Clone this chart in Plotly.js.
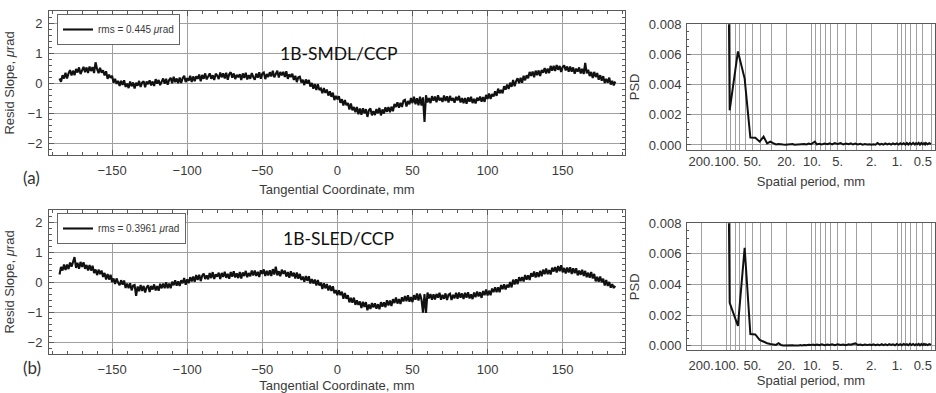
<!DOCTYPE html>
<html>
<head>
<meta charset="utf-8">
<script src="https://cdn.plot.ly/plotly-3.0.1.min.js"></script>
<style>html,body{margin:0;padding:0;background:#fff;}#chart{width:936px;height:393px;}</style>
</head>
<body>
<div id="chart"></div>
<script>
// Residual slope traces, x from -185 mm to 185 mm every 1 mm
const slopeStart = -185;
const slopeStep = 1;
const slopeA = [
  0.18,0.07,0.29,0.18,0.37,0.18,0.35,0.46,0.28,0.44,
  0.29,0.50,0.38,0.55,0.33,0.49,0.57,0.39,0.55,0.36,
  0.58,0.43,0.56,0.36,0.72,0.50,0.36,0.54,0.37,0.45,
  0.28,0.42,0.17,0.31,0.20,0.27,0.04,0.17,0.00,0.10,
  -0.07,0.10,-0.03,0.12,-0.10,0.01,-0.14,0.08,-0.08,0.05,
  -0.15,0.04,-0.06,0.10,-0.10,0.04,0.09,-0.11,0.08,-0.01,
  0.12,-0.05,0.08,-0.07,0.16,0.01,0.13,-0.04,0.10,0.18,
  0.01,0.17,-0.03,0.13,0.20,0.02,0.24,0.06,0.18,0.02,
  0.21,0.03,0.19,0.27,0.06,0.19,0.11,0.27,0.06,0.25,
  0.09,0.25,0.17,0.31,0.09,0.30,0.17,0.35,0.15,0.27,
  0.35,0.17,0.29,0.13,0.34,0.28,0.16,0.38,0.22,0.35,
  0.18,0.37,0.14,0.32,0.39,0.21,0.35,0.16,0.30,0.22,
  0.32,0.13,0.35,0.20,0.37,0.15,0.29,0.17,0.36,0.23,
  0.14,0.34,0.21,0.39,0.17,0.34,0.38,0.16,0.33,0.23,
  0.39,0.25,0.44,0.22,0.36,0.44,0.21,0.40,0.29,0.40,
  0.23,0.42,0.17,0.32,0.23,0.34,0.13,0.27,0.06,0.22,
  0.24,0.05,0.14,-0.04,0.15,0.01,0.13,-0.09,0.03,-0.16,
  -0.01,-0.20,-0.01,-0.20,-0.15,-0.31,-0.14,-0.30,-0.19,-0.39,
  -0.25,-0.43,-0.29,-0.54,-0.40,-0.51,-0.41,-0.63,-0.51,-0.72,
  -0.54,-0.71,-0.64,-0.85,-0.65,-0.88,-0.77,-0.94,-0.77,-1.01,
  -0.82,-1.03,-0.81,-0.98,-0.84,-1.10,-0.88,-0.82,-1.05,-0.91,
  -1.04,-0.84,-0.98,-0.80,-1.05,-0.85,-0.99,-0.78,-0.93,-0.77,
  -0.94,-0.76,-0.91,-0.67,-0.77,-0.61,-0.79,-0.63,-0.77,-0.56,
  -0.53,-0.75,-0.57,-0.68,-0.47,-0.64,-0.43,-0.68,-0.48,-0.71,
  -0.43,-0.72,-0.45,-1.27,-0.38,-0.62,-0.47,-0.64,-0.41,-0.56,
  -0.42,-0.61,-0.38,-0.55,-0.47,-0.60,-0.39,-0.57,-0.41,-0.62,
  -0.40,-0.56,-0.47,-0.63,-0.43,-0.55,-0.40,-0.62,-0.47,-0.64,
  -0.47,-0.66,-0.45,-0.59,-0.43,-0.64,-0.50,-0.65,-0.46,-0.56,
  -0.42,-0.59,-0.44,-0.60,-0.37,-0.50,-0.32,-0.50,-0.34,-0.42,
  -0.25,-0.40,-0.16,-0.31,-0.20,-0.31,-0.08,-0.19,-0.02,-0.17,
  0.04,-0.10,0.13,-0.08,0.09,0.19,0.02,0.20,0.04,0.27,
  0.12,0.29,0.19,0.40,0.27,0.41,0.22,0.44,0.29,0.45,
  0.26,0.46,0.37,0.53,0.35,0.51,0.36,0.60,0.44,0.60,
  0.43,0.63,0.47,0.60,0.40,0.56,0.62,0.45,0.58,0.41,
  0.58,0.41,0.55,0.34,0.51,0.41,0.55,0.35,0.50,0.33,
  0.70,0.35,0.47,0.26,0.40,0.20,0.40,0.23,0.36,0.14,
  0.29,0.11,0.26,0.03,0.17,0.04,0.21,-0.02,0.10,-0.05,
  0.08
];
const slopeB = [
  0.28,0.53,0.41,0.61,0.43,0.61,0.46,0.68,0.54,0.67,
  0.86,0.50,0.67,0.47,0.70,0.53,0.69,0.47,0.60,0.41,
  0.60,0.41,0.57,0.33,0.45,0.26,0.44,0.29,0.41,0.20,
  0.33,0.11,0.30,0.11,0.27,0.03,0.15,-0.04,0.15,0.01,
  -0.08,0.09,-0.06,0.08,-0.17,-0.02,-0.18,-0.01,-0.25,-0.09,
  -0.07,-0.43,-0.12,-0.28,-0.07,-0.27,-0.10,-0.32,-0.15,-0.08,
  -0.30,-0.10,-0.22,-0.05,-0.25,-0.11,-0.26,-0.03,-0.18,-0.02,
  -0.18,0.02,-0.18,-0.02,-0.18,0.04,-0.08,0.09,-0.09,0.05,
  -0.10,0.09,-0.01,0.16,-0.06,0.12,-0.01,0.19,0.05,0.21,
  0.04,0.26,0.10,0.27,0.06,0.24,0.31,0.13,0.25,0.12,
  0.33,0.16,0.36,0.13,0.29,0.21,0.34,0.13,0.33,0.20,
  0.37,0.17,0.30,0.14,0.36,0.21,0.39,0.18,0.32,0.16,
  0.36,0.15,0.35,0.23,0.40,0.19,0.33,0.22,0.41,0.25,
  0.41,0.23,0.37,0.20,0.42,0.30,0.45,0.23,0.40,0.25,
  0.42,0.23,0.46,0.28,0.54,0.25,0.39,0.22,0.44,0.30,
  0.41,0.21,0.36,0.17,0.39,0.22,0.34,0.15,0.35,0.14,
  0.30,0.10,0.21,0.04,0.23,0.07,0.22,-0.02,0.13,-0.02,
  0.11,-0.09,0.10,-0.09,0.01,-0.20,-0.01,-0.18,-0.04,-0.25,
  -0.09,-0.27,-0.11,-0.35,-0.24,-0.41,-0.25,-0.41,-0.29,-0.53,
  -0.34,-0.53,-0.41,-0.65,-0.50,-0.66,-0.49,-0.73,-0.58,-0.73,
  -0.62,-0.84,-0.63,-0.80,-0.64,-0.91,-0.72,-0.87,-0.67,-0.82,
  -0.68,-0.86,-0.71,-0.88,-0.64,-0.79,-0.65,-0.81,-0.58,-0.75,
  -0.59,-0.77,-0.54,-0.67,-0.49,-0.69,-0.54,-0.70,-0.48,-0.62,
  -0.44,-0.61,-0.41,-0.63,-0.47,-0.64,-0.41,-0.56,-0.35,-0.59,
  -0.36,-0.56,-0.99,-0.37,-1.00,-0.32,-0.52,-0.37,-0.56,-0.38,
  -0.55,-0.37,-0.49,-0.33,-0.56,-0.40,-0.53,-0.35,-0.57,-0.39,
  -0.36,-0.57,-0.40,-0.51,-0.33,-0.53,-0.32,-0.49,-0.35,-0.54,
  -0.33,-0.49,-0.31,-0.52,-0.38,-0.54,-0.32,-0.48,-0.29,-0.45,
  -0.31,-0.50,-0.27,-0.41,-0.22,-0.42,-0.26,-0.41,-0.19,-0.31,
  -0.15,-0.31,-0.15,-0.31,-0.07,-0.21,-0.05,-0.22,-0.06,-0.15,
  0.03,-0.15,0.11,-0.05,0.12,-0.04,0.19,0.06,0.19,0.05,
  0.26,0.11,0.25,0.10,0.32,0.21,0.38,0.18,0.35,0.20,
  0.40,0.22,0.44,0.29,0.48,0.29,0.43,0.28,0.51,0.38,
  0.53,0.35,0.56,0.39,0.59,0.35,0.50,0.31,0.51,0.35,
  0.52,0.30,0.49,0.32,0.49,0.25,0.41,0.27,0.44,0.23,
  0.40,0.19,0.34,0.17,0.36,0.15,0.30,0.05,0.20,0.04,
  0.21,0.02,0.14,-0.09,0.10,-0.10,0.03,-0.16,-0.04,-0.17,
  -0.10
];
const rmsA = "rms = 0.445 <i>μ</i>rad";
const rmsB = "rms = 0.3961 <i>μ</i>rad";
const labelA = "1B-SMDL/CCP";
const labelB = "1B-SLED/CCP";

// PSD traces
const psdPeriod = [
  123.3, 92.5, 74, 61.7, 52.9, 46.3, 41.1, 37, 33.6, 30.8,
  28.5, 26.4, 24.7, 23.1, 21.8, 20.6, 19.5, 18.5, 17.6, 16.8,
  16.1, 15.4, 14.8, 14.2, 13.7, 13.2, 12.3, 11.6, 10.9, 10.3,
  9.7, 9.25, 8.8, 8.2, 7.7, 7.1, 6.6, 6.2, 5.8, 5.4,
  5.0, 4.6, 4.3, 4.0, 3.7, 3.5, 3.3, 3.1, 2.9, 2.7,
  2.55, 2.4, 2.25, 2.1, 2.0, 1.9, 1.8, 1.7, 1.6, 1.52,
  1.45, 1.38, 1.3, 1.24, 1.18, 1.12, 1.06, 1.01, 0.96, 0.92,
  0.88, 0.84, 0.8, 0.77, 0.74, 0.71, 0.68, 0.65, 0.62, 0.6,
  0.58, 0.56, 0.54, 0.52, 0.5, 0.485, 0.47, 0.46, 0.44, 0.42,
  0.4
];
const psdA = [
  0.09, 0.0023, 0.0062, 0.0044, 0.0005, 0.00048, 0.00022, 0.00055, 0.0001, 0.00022,
  0.00012, 0.00004, 0.00006, 0.00002, 0.00003, 0.00002, 0.00004, 0.00001, 0.00003, 0.00006,
  0.00002, 0.00003, 0.00001, 0.00004, 0.00002, 0.00003, 0.00006, 0.00003, 0.0001, 0.00005,
  0.00012, 0.00022, 0.00004, 0.00008, 0.00003, 0.00009, 0.00005, 0.00011, 0.00004, 0.00013,
  0.00006, 0.00012, 0.00003, 0.0001, 0.00005, 0.00011, 0.00003, 0.00009, 0.00004, 0.00008,
  0.00002, 0.00006, 0.00003, 0.00005, 0.00001, 0.00004, 0.00002, 0.00013, 0.00003, 0.00008,
  0.00002, 0.0001, 0.00004, 0.00009, 0.00002, 0.00011, 0.00004, 0.0001, 0.00003, 0.00012,
  0.00004, 0.00011, 0.00002, 0.00013, 0.00003, 0.00012, 0.00004, 0.00014, 0.00003, 0.00012,
  0.00005, 0.00014, 0.00002, 0.00013, 0.00004, 0.00012, 0.00003, 0.00013, 0.00005, 0.00012,
  0.00006
];
const psdB = [
  0.08, 0.0028, 0.0013, 0.0064, 0.00076, 0.00074, 0.00038, 0.00026, 0.00016, 0.00011,
  0.00006, 0.00005, 0.00016, 0.00005, 0.00002, 0.00003, 0.00001, 0.00002, 0.00001, 0.00003,
  0.00002, 0.00001, 0.00003, 0.00002, 0.00004, 0.00002, 0.00005, 0.00003, 0.00006, 0.00004,
  0.00008, 0.00003, 0.00007, 0.00004, 0.00009, 0.00003, 0.00008, 0.00005, 0.00009, 0.00004,
  0.0001, 0.00005, 0.00008, 0.00004, 0.00009, 0.00006, 0.00011, 0.00015, 0.00005, 0.00008,
  0.00003, 0.00007, 0.00004, 0.00008, 0.00003, 0.00009, 0.00004, 0.00008, 0.00003, 0.0001,
  0.00004, 0.00009, 0.00003, 0.0001, 0.00005, 0.00009, 0.00003, 0.00011, 0.00004, 0.0001,
  0.00003, 0.00011, 0.00005, 0.0001, 0.00003, 0.00012, 0.00004, 0.00011, 0.00003, 0.0001,
  0.00005, 0.00012, 0.00003, 0.00011, 0.00004, 0.00012, 0.00005, 0.0001, 0.00004, 0.00011,
  0.00005
];
const periodGrid = [200, 100, 90, 80, 70, 60, 50, 40, 30, 20, 10, 9, 8, 7, 6, 5, 4, 3, 2, 1, 0.9, 0.8, 0.7, 0.6, 0.5, 0.4];
const periodText = ["200.", "100.", "", "", "", "", "50.", "", "", "20.", "10.", "", "", "", "", "5.", "", "", "2.", "1.", "", "", "", "", "0.5", ""];

const FONT = "Liberation Sans, Arial, sans-serif";
const TXT = "#3a3a3a";
const GRID = "#a0a0a0";
const FRAME = "#5a5a5a";

function slopeX(dom, anchor, standoff) {
  return {
    domain: dom, anchor: anchor, range: [-192, 191.5], autorange: false,
    tick0: 0, dtick: 50, showgrid: true, gridcolor: GRID, gridwidth: 1, zeroline: false,
    showline: true, linecolor: FRAME, linewidth: 1, mirror: "allticks",
    ticks: "inside", ticklen: 5, tickcolor: FRAME, ticklabelstandoff: 3,
    minor: {dtick: 10, ticks: "inside", ticklen: 3, tickcolor: FRAME, showgrid: false},
    tickfont: {family: FONT, size: 13, color: TXT},
    title: {text: "Tangential Coordinate, mm", font: {family: FONT, size: 13, color: TXT}, standoff: standoff}
  };
}
function slopeY(dom, anchor) {
  return {
    domain: dom, anchor: anchor, range: [-2.37, 2.43], autorange: false,
    tick0: 0, dtick: 1, showgrid: true, gridcolor: GRID, gridwidth: 1, zeroline: false,
    showline: true, linecolor: FRAME, linewidth: 1, mirror: "allticks",
    ticks: "inside", ticklen: 5, tickcolor: FRAME, ticklabelstandoff: 3,
    minor: {dtick: 0.2, ticks: "inside", ticklen: 3, tickcolor: FRAME, showgrid: false},
    tickfont: {family: FONT, size: 13, color: TXT},
    title: {text: "Resid Slope, <i>μ</i>rad", font: {family: FONT, size: 13, color: TXT}, standoff: 10}
  };
}
function psdX(dom, anchor, labelStandoff, standoff) {
  return {
    domain: dom, anchor: anchor, type: "log", range: [2.467, -0.444], autorange: false,
    tickmode: "array", tickvals: periodGrid, ticktext: periodText, tickangle: 0,
    showgrid: true, gridcolor: GRID, gridwidth: 1, zeroline: false,
    showline: true, linecolor: FRAME, linewidth: 1, mirror: true,
    ticks: "", ticklabelstandoff: labelStandoff,
    tickfont: {family: FONT, size: 13, color: TXT},
    title: {text: "Spatial period, mm", font: {family: FONT, size: 13, color: TXT}, standoff: standoff}
  };
}
function psdY(dom, anchor) {
  return {
    domain: dom, anchor: anchor, range: [-0.0003, 0.008], autorange: false,
    tick0: 0, dtick: 0.002, tickformat: ".3f",
    showgrid: true, gridcolor: GRID, gridwidth: 1, zeroline: false,
    showline: true, linecolor: FRAME, linewidth: 1, mirror: true,
    ticks: "inside", ticklen: 4, tickcolor: FRAME, ticklabelstandoff: 2,
    minor: {dtick: 0.0005, ticks: "inside", ticklen: 2, tickcolor: FRAME, showgrid: false},
    tickfont: {family: FONT, size: 13, color: TXT},
    title: {text: "PSD", font: {family: FONT, size: 13, color: TXT}, standoff: 6}
  };
}

const lineStyle = {color: "#111", width: 2.1};
const data = [
  {type: "scatter", mode: "lines", x0: slopeStart, dx: slopeStep, y: slopeA, xaxis: "x", yaxis: "y",
   name: rmsA, line: lineStyle, legend: "legend", showlegend: true},
  {type: "scatter", mode: "lines", x0: slopeStart, dx: slopeStep, y: slopeB, xaxis: "x2", yaxis: "y2",
   name: rmsB, line: lineStyle, legend: "legend2", showlegend: true},
  {type: "scatter", mode: "lines", x: psdPeriod, y: psdA, xaxis: "x3", yaxis: "y3",
   line: {color: "#111", width: 2}, showlegend: false},
  {type: "scatter", mode: "lines", x: psdPeriod, y: psdB, xaxis: "x4", yaxis: "y4",
   line: {color: "#111", width: 2}, showlegend: false}
];

const W = 936, H = 393;
const legendStyle = {
  xanchor: "left", yanchor: "top", bgcolor: "#ffffff", bordercolor: "#666", borderwidth: 1,
  font: {family: FONT, size: 10, color: TXT}, itemwidth: 30
};

const layout = {
  width: W, height: H,
  margin: {l: 0, r: 0, t: 0, b: 0},
  paper_bgcolor: "#ffffff", plot_bgcolor: "#ffffff",
  font: {family: FONT, color: TXT},
  xaxis: slopeX([49 / W, 625 / W], "y", 8),
  yaxis: slopeY([1 - 155 / H, 1 - 11 / H], "x"),
  xaxis2: slopeX([49 / W, 625 / W], "y2", 8),
  yaxis2: slopeY([1 - 354 / H, 1 - 210 / H], "x2"),
  xaxis3: psdX([687 / W, 935 / W], "y3", 0, 8),
  yaxis3: psdY([1 - 149.5 / H, 1 - 24.3 / H], "x3"),
  xaxis4: psdX([687 / W, 935 / W], "y4", 3, 2),
  yaxis4: psdY([1 - 350.3 / H, 1 - 223.3 / H], "x4"),
  legend: Object.assign({x: 57 / W, y: 1 - 14 / H}, legendStyle),
  legend2: Object.assign({x: 57 / W, y: 1 - 213 / H}, legendStyle),
  annotations: [
    {xref: "paper", yref: "paper", x: 338 / W, y: 1 - 41 / H, text: labelA, showarrow: false,
     font: {family: "Lato, Open Sans, sans-serif", size: 17.5, color: "#111"}},
    {xref: "paper", yref: "paper", x: 338 / W, y: 1 - 238 / H, text: labelB, showarrow: false,
     font: {family: "Lato, Open Sans, sans-serif", size: 17.5, color: "#111"}},
    {xref: "paper", yref: "paper", x: 21 / W, y: 1 - 177 / H, text: "(a)", showarrow: false,
     font: {family: "Lato, Open Sans, sans-serif", size: 17, color: "#333"}},
    {xref: "paper", yref: "paper", x: 21 / W, y: 1 - 380 / H, text: "(b)", showarrow: false,
     font: {family: "Lato, Open Sans, sans-serif", size: 17, color: "#333"}}
  ]
};

Plotly.newPlot("chart", data, layout, {displayModeBar: false, staticPlot: true});
</script>
</body>
</html>
